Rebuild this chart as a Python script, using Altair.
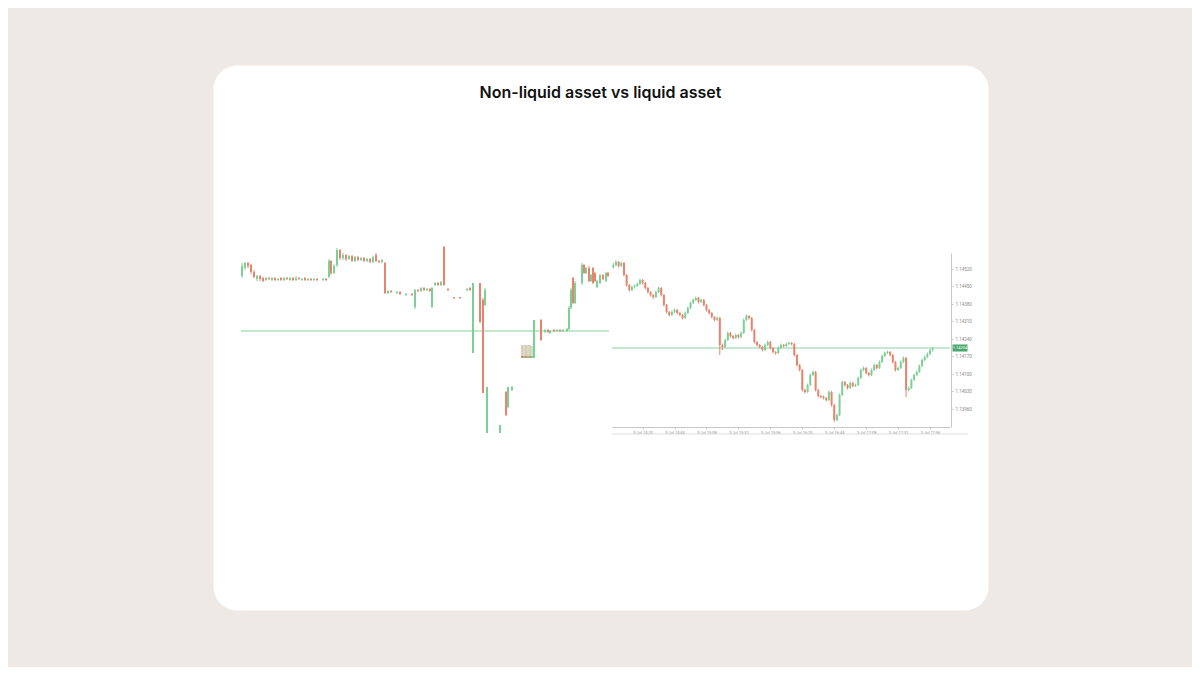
import altair as alt
import pandas as pd

TITLE = "Non-liquid asset vs liquid asset"
BG = "#EFE9E6"
GREEN = "#7bd096"
RED = "#e8846d"
LINE_GREEN = "#8ccf9f"
TAG_GREEN = "#4aa86a"

# ---------------- left chart (non-liquid asset, no axes) ----------------
L_X = [1,4,7,10,13,16,19,22,25,28,31,34,37,40,43,46,49,52,55,58,
       61,64,67,70,73,76,82,85,88,90,93,96,99,102,105,108,111,114,117,120,
       123,126,129,132,135,138,141,144,147,150,156,159,165,171,174,177,180,183,186,189,
       191,194,197,200,203,207,213,219,226,229,232,239,242,244,246,259,265,267,271,281,
       283,285,287,289,291,293,300,304,307,309,313,316,319,322,326,328,330,332,334,341,
       343,345,348,350,352,354,356,359,362,365,367]
L_OPEN = [157,165,170,168,161,154,157,155,153,155,
          153,155,153,155,153,155,153,155,153,155,
          153,155,153,154,153,154,153,154,156,172,
          160,168,183,175,178,174,177,172,176,173,
          175,172,174,171,178,172,171,170,140,142,
          140,141,138,139,126,143,142,145,143,144,
          126,148,150,148,186,144,136,136,143,145,
          80,150,133,128,0,0,41,26,43,77,
          75,77,75,77,75,75,113,101,103,100,
          103,102,103,102,102,104,125,155,130,150,
          168,160,165,152,165,160,146,150,158,152,
          160]
L_HIGH = [170,171,171,169,163,158,158,156,156,156,
          156,156,155,156,156,156,156,156,157,156,
          155,156,155,155,155,155,155,155,174,173,
          169,185,184,180,179,178,178,177,177,176,
          176,175,175,177,180,173,174,171,143,143,
          142,142,140,140,144,144,146,146,145,145,
          146,151,151,152,187,145,136,136,145,146,
          150,150,135,145,46,8,42,46,47,88,
          88,88,88,88,87,113,114,104,104,103,
          104,104,104,104,105,127,145,156,152,170,
          169,166,167,159,166,161,153,159,159,161,
          161]
L_LOW = [155,163,165,159,155,152,152,151,152,153,
         152,152,152,152,152,153,152,152,152,153,
         152,152,152,152,152,152,152,152,155,158,
         159,166,173,173,172,173,171,171,172,172,
         171,171,170,170,171,170,170,139,139,140,
         139,138,137,137,124,141,141,142,142,141,
         125,147,147,147,147,142,134,134,142,142,
         80,110,40,127,0,0,17,25,42,75,
         75,75,75,75,75,75,92,100,100,99,
         101,101,101,101,101,103,124,129,129,148,
         159,159,151,151,149,151,145,149,153,151,
         156]
L_CLOSE = [167,170,167,161,156,157,154,152,155,154,
           155,153,154,153,155,154,155,153,155,154,
           154,153,154,153,154,153,154,153,172,160,
           167,183,175,178,174,177,172,176,173,175,
           172,174,171,176,172,171,173,140,142,141,
           141,139,139,138,143,142,145,143,144,142,
           145,150,148,151,148,143,135,135,144,143,
           150,111,40,143,46,8,18,46,46,75,
           77,75,77,75,77,113,93,103,101,102,
           102,103,102,103,104,125,143,130,150,168,
           160,165,152,158,150,152,152,158,154,160,
           157]
L_LEVEL = 102

# ---------------- right chart (liquid asset), prices in 1e-5 units ----------------
R_START = "2021-07-03 13:58"
R_OPEN = [114528,114536,114548,114532,114544,114496,114456,114436,114448,114452,
          114460,114476,114464,114444,114428,114416,114408,114428,114444,114416,
          114376,114348,114336,114348,114356,114344,114336,114324,114344,114364,
          114384,114396,114404,114388,114396,114376,114356,114344,114328,114316,
          114324,114216,114208,114236,114264,114252,114244,114256,114248,114264,
          114316,114332,114324,114276,114228,114216,114208,114196,114216,114228,
          114204,114188,114184,114204,114216,114212,114220,114224,114220,114176,
          114136,114116,114036,114028,114056,114096,114108,114036,114012,114008,
          114004,113996,114028,113976,113916,113936,114016,114068,114056,114044,
          114064,114052,114056,114084,114116,114124,114104,114096,114116,114136,
          114124,114148,114172,114184,114188,114176,114148,114116,114124,114148,
          114164,114036,114044,114076,114096,114108,114132,114156,114168,114180,114196]
R_HIGH = [114544,114556,114552,114550,114548,114500,114460,114454,114458,114466,
          114482,114480,114468,114448,114432,114420,114434,114450,114448,114420,
          114380,114352,114354,114362,114360,114348,114340,114350,114370,114390,
          114402,114410,114408,114402,114400,114380,114360,114348,114332,114330,
          114328,114222,114242,114270,114268,114256,114262,114260,114270,114322,
          114338,114336,114328,114280,114232,114220,114212,114222,114234,114232,
          114208,114192,114210,114222,114220,114226,114230,114228,114224,114180,
          114140,114120,114042,114062,114102,114114,114112,114040,114016,114014,
          114008,114034,114032,113980,113942,114022,114074,114072,114060,114070,
          114068,114062,114090,114122,114130,114128,114108,114122,114142,114140,
          114154,114178,114190,114194,114192,114180,114152,114130,114154,114170,
          114168,114050,114082,114102,114114,114138,114162,114174,114186,114202,114208]
R_LOW = [114522,114530,114526,114528,114490,114450,114430,114432,114442,114448,
         114456,114458,114438,114422,114410,114400,114404,114424,114410,114370,
         114342,114330,114332,114344,114338,114330,114318,114320,114340,114360,
         114380,114392,114382,114384,114370,114350,114338,114322,114310,114312,
         114176,114196,114204,114232,114246,114238,114240,114242,114244,114260,
         114312,114318,114270,114222,114210,114202,114190,114192,114212,114198,
         114182,114176,114180,114200,114206,114208,114216,114214,114170,114130,
         114110,114030,114022,114024,114052,114092,114030,114006,114002,113998,
         113990,113992,113970,113908,113912,113932,114012,114050,114038,114040,
         114046,114048,114052,114080,114112,114098,114090,114092,114112,114118,
         114120,114144,114168,114180,114170,114142,114110,114112,114120,114144,
         114008,114030,114040,114072,114092,114104,114128,114152,114164,114176,114190]
R_CLOSE = [114536,114548,114532,114544,114496,114456,114436,114448,114452,114460,
           114476,114464,114444,114428,114416,114408,114428,114444,114416,114376,
           114348,114336,114348,114356,114344,114336,114324,114344,114364,114384,
           114396,114404,114388,114396,114376,114356,114344,114328,114316,114324,
           114216,114208,114236,114264,114252,114244,114256,114248,114264,114316,
           114332,114324,114276,114228,114216,114208,114196,114216,114228,114204,
           114188,114184,114204,114216,114212,114220,114224,114220,114176,114136,
           114116,114036,114028,114056,114096,114108,114036,114012,114008,114004,
           113996,114028,113976,113916,113936,114016,114068,114056,114044,114064,
           114052,114056,114084,114116,114124,114104,114096,114116,114136,114124,
           114148,114172,114184,114188,114176,114148,114116,114124,114148,114164,
           114036,114044,114076,114096,114108,114132,114156,114168,114180,114196,114200]
R_LEVEL = 114204
R_PRICE_TICKS = [114520, 114450, 114380, 114310, 114240, 114170, 114100, 114030, 113960]
R_TIME_TICKS = ["14:20", "14:44", "15:08", "15:32", "15:56", "16:20", "16:44", "17:08", "17:32", "17:56"]

# ---------------- data frames ----------------
left_df = pd.DataFrame({"t": L_X, "o": L_OPEN, "h": L_HIGH, "l": L_LOW, "c": L_CLOSE})
left_df["dir"] = ["up" if c >= o else "down" for o, c in zip(left_df.o, left_df.c)]

right_df = pd.DataFrame({
    "t": pd.date_range(R_START, periods=len(R_CLOSE), freq="2min").strftime("%Y-%m-%dT%H:%M:%S"),
    "o": [v / 1e5 for v in R_OPEN], "h": [v / 1e5 for v in R_HIGH],
    "l": [v / 1e5 for v in R_LOW], "c": [v / 1e5 for v in R_CLOSE],
})
right_df["dir"] = ["up" if c >= o else "down" for o, c in zip(right_df.o, right_df.c)]

color = alt.Color("dir:N", scale=alt.Scale(domain=["up", "down"], range=[GREEN, RED]), legend=None)

# ---------------- left layers ----------------
LSX = alt.Scale(domain=[0, 368], range=[28, 396], padding=0, nice=False)
LSY = alt.Scale(domain=[0, 188], range=[368, 180], zero=False, nice=False)

lbase = alt.Chart(left_df)
l_wick = lbase.mark_rule(strokeWidth=1).encode(
    x=alt.X("t:Q", scale=LSX, axis=None),
    y=alt.Y("l:Q", scale=LSY, axis=None), y2="h:Q", color=color)
l_body = lbase.mark_bar(size=2).encode(
    x=alt.X("t:Q", scale=LSX, axis=None),
    y=alt.Y("o:Q", scale=LSY, axis=None), y2="c:Q", color=color)
l_line = alt.Chart(pd.DataFrame({"v": [L_LEVEL]})).mark_rule(color=LINE_GREEN, strokeWidth=1).encode(
    x=alt.X(datum=0, type="quantitative", scale=LSX, axis=None),
    x2=alt.X2(datum=368),
    y=alt.Y("v:Q", scale=LSY, axis=None))
left = alt.layer(l_line, l_wick, l_body)

# ---------------- right layers ----------------
def dt(hm):
    h, m = hm.split(":")
    return alt.DateTime(year=2021, month=7, date=3, hours=int(h), minutes=int(m))

RSX = alt.Scale(domain=[dt("13:57"), dt("18:11")], range=[399, 737], padding=0, nice=False)
RSY = alt.Scale(domain=[1.13888, 1.14584], range=[362, 188], zero=False, nice=False)
R_XAXIS = alt.Axis(title=None, orient="bottom", offset=-183, values=[dt(s) for s in R_TIME_TICKS],
                   format="%-d %b %H:%M", labelFontSize=4, labelColor="#8a8a8a", tickSize=2,
                   tickColor="#c8c8c8", domainColor="#c8c8c8", domainWidth=1, grid=False,
                   labelPadding=1, labelOverlap=False, labelFlush=False, labelFont="Roboto")
R_YAXIS = alt.Axis(title=None, orient="right", offset=-37, values=[v / 1e5 for v in R_PRICE_TICKS],
                   format=".5f", labelFontSize=4.5, labelColor="#8a8a8a", tickSize=2,
                   tickColor="#c8c8c8", domainColor="#c8c8c8", domainWidth=1, grid=False,
                   labelPadding=2, labelFont="Roboto")

rbase = alt.Chart(right_df)
r_wick = rbase.mark_rule(strokeWidth=1).encode(
    x=alt.X("t:T", scale=RSX, axis=R_XAXIS),
    y=alt.Y("l:Q", scale=RSY, axis=R_YAXIS), y2="h:Q", color=color)
r_body = rbase.mark_bar(size=2).encode(
    x=alt.X("t:T", scale=RSX, axis=R_XAXIS),
    y=alt.Y("o:Q", scale=RSY, axis=R_YAXIS), y2="c:Q", color=color)
level_df = pd.DataFrame({"v": [R_LEVEL / 1e5], "label": [f"{R_LEVEL / 1e5:.5f}"]})
r_line = alt.Chart(level_df).mark_rule(color=LINE_GREEN, strokeWidth=1).encode(
    x=alt.X(datum=dt("13:57"), type="temporal", scale=RSX, axis=R_XAXIS),
    x2=alt.X2(datum=dt("18:11")),
    y=alt.Y("v:Q", scale=RSY, axis=R_YAXIS))
r_tag = alt.Chart(level_df).mark_point(shape="M-1,-0.47H1V0.47H-1Z", size=225, filled=True,
                                        opacity=1, color=TAG_GREEN).encode(
    x=alt.value(747), y=alt.Y("v:Q", scale=RSY, axis=R_YAXIS))
r_tag_text = alt.Chart(level_df).mark_text(fontSize=4, color="white", font="Roboto").encode(
    x=alt.value(747), y=alt.Y("v:Q", scale=RSY, axis=R_YAXIS), text="label:N")
r_scroll = alt.Chart(pd.DataFrame({"a": [0]})).mark_rule(color="#dedede", strokeWidth=1).encode(
    x=alt.value(399), x2=alt.value(755), y=alt.value(369))
right = alt.layer(r_line, r_wick, r_body, r_tag, r_tag_text, r_scroll)

chart = (
    alt.layer(left, right)
    .resolve_scale(x="independent", y="independent", color="shared")
    .properties(
        width=775, height=545,
        autosize=alt.AutoSizeParams(type="none"),
        padding={"left": 205, "top": 57, "right": 204, "bottom": 57},
        background=BG,
        title=alt.TitleParams(TITLE, anchor="middle", font="Inter", fontSize=16, fontWeight=600,
                              color="#111111", baseline="middle", offset=-44),
    )
    .configure_view(fill="white", cornerRadius=24, strokeOpacity=0)
)

chart.save("out.html", embed_options={"renderer": "svg", "actions": False})
